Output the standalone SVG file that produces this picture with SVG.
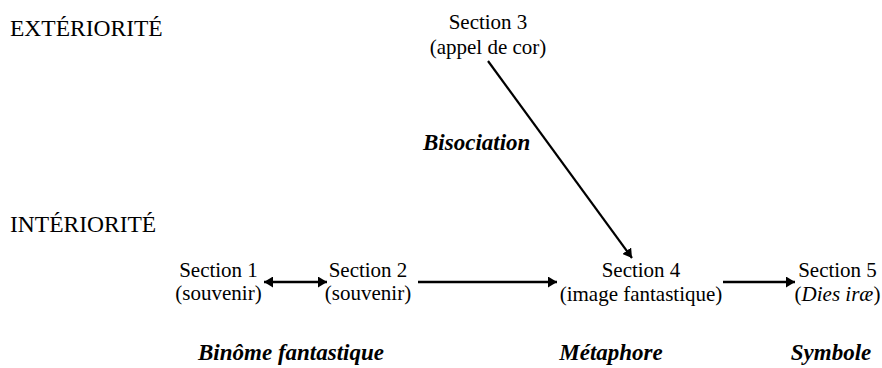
<svg xmlns="http://www.w3.org/2000/svg" width="882" height="368" viewBox="0 0 882 368">
<style>
.t{font-family:'Liberation Serif','Times New Roman',Times,serif;fill:#000}
.lbl{font-size:21px;text-anchor:middle}
.head{font-size:23.5px}
.bi{font-size:23px;font-weight:bold;font-style:italic}
.bl{text-anchor:middle}
.con{stroke:#000;stroke-width:2.6;fill:none}
.diag{stroke:#000;stroke-width:2.2;fill:none}
</style>
<defs>
<marker id="ah" markerUnits="userSpaceOnUse" viewBox="0 0 9 11" markerWidth="9" markerHeight="11" refX="9" refY="5.5" orient="auto-start-reverse">
<path d="M0,0 L9,5.5 L0,11 z" fill="#000"/>
</marker>
</defs>
<g id="headings">
<text class="t head" x="10" y="36">EXTÉRIORITÉ</text>
<text class="t head" x="10" y="232">INTÉRIORITÉ</text>
</g>
<g id="section3"><text class="t lbl" x="488" y="29">Section 3</text><text class="t lbl" x="488" y="54">(appel de cor)</text></g>
<g id="section1"><text class="t lbl" x="218.5" y="277">Section 1</text><text class="t lbl" x="218.5" y="300">(souvenir)</text></g>
<g id="section2"><text class="t lbl" x="368" y="277">Section 2</text><text class="t lbl" x="368" y="300">(souvenir)</text></g>
<g id="section4"><text class="t lbl" x="641" y="277">Section 4</text><text class="t lbl" x="641" y="301">(image fantastique)</text></g>
<g id="section5"><text class="t lbl" x="837.5" y="277">Section 5</text><text class="t lbl" x="837.5" y="301">(<tspan font-style="italic">Dies iræ</tspan>)</text></g>
<g id="labels">
<text class="t bi" x="423" y="150">Bisociation</text>
<text class="t bi bl" x="291" y="360">Binôme fantastique</text>
<text class="t bi bl" x="611" y="360">Métaphore</text>
<text class="t bi bl" x="831" y="360">Symbole</text>
</g>
<g id="connectors">
<line class="con" x1="264" y1="282" x2="327" y2="282" marker-start="url(#ah)" marker-end="url(#ah)"/>
<line class="con" x1="418" y1="282" x2="557" y2="282" marker-end="url(#ah)"/>
<line class="con" x1="723" y1="282" x2="795" y2="282" marker-end="url(#ah)"/>
<line class="diag" x1="488" y1="61" x2="632" y2="258" marker-end="url(#ah)"/>
</g>
</svg>
